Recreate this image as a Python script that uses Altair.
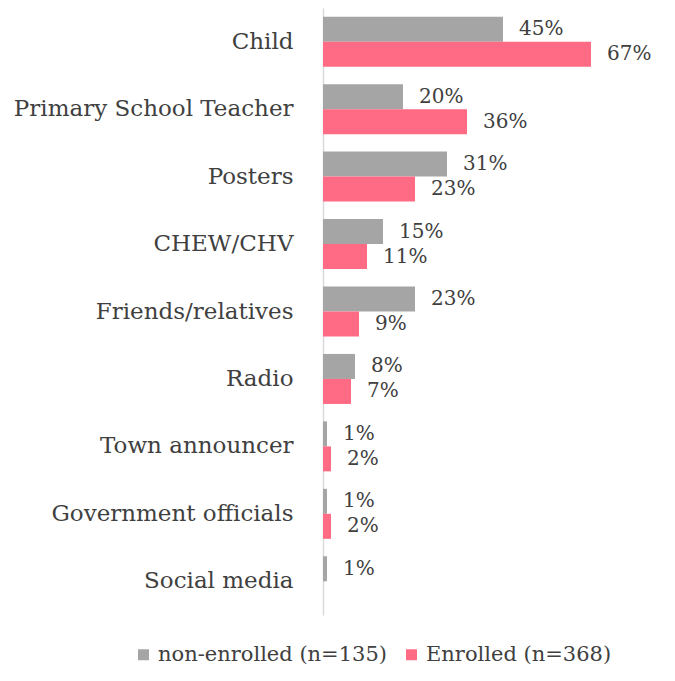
import altair as alt
import pandas as pd

categories = ["Child", "Primary School Teacher", "Posters", "CHEW/CHV",
              "Friends/relatives", "Radio", "Town announcer",
              "Government officials", "Social media"]
non_enrolled = [45, 20, 31, 15, 23, 8, 1, 1, 1]
enrolled = [67, 36, 23, 11, 9, 7, 2, 2, None]
series = ["non-enrolled (n=135)", "Enrolled (n=368)"]

rows = []
for c, a, b in zip(categories, non_enrolled, enrolled):
    rows.append({"cat": c, "series": series[0], "value": a})
    if b is not None:
        rows.append({"cat": c, "series": series[1], "value": b})
df = pd.DataFrame(rows)
df["label"] = df["value"].astype(int).astype(str) + "%"

FONT = "DejaVu Serif"
TXT = "#404040"

y = alt.Y("cat:N", sort=categories, title=None,
          scale=alt.Scale(paddingInner=0, paddingOuter=0),
          axis=alt.Axis(ticks=False, domainColor="#d9d9d9", domainWidth=1.5,
                        labelFont=FONT, labelFontSize=23, labelColor=TXT,
                        labelPadding=30, labelLimit=400))
yoff = alt.YOffset("series:N", sort=series,
                   scale=alt.Scale(paddingInner=0, paddingOuter=0.35))
x = alt.X("value:Q", scale=alt.Scale(domain=[0, 84], nice=False), axis=None)
color = alt.Color("series:N", sort=series,
                  scale=alt.Scale(domain=series, range=["#a5a5a5", "#ff6b84"]),
                  legend=alt.Legend(title=None, orient="none", direction="horizontal",
                                    legendX=-190, legendY=636,
                                    symbolType="square", symbolSize=120,
                                    labelFont=FONT, labelFontSize=21, labelColor=TXT,
                                    labelLimit=400, columnPadding=14,
                                    symbolStrokeWidth=0))

bars = alt.Chart(df).mark_bar(size=25).encode(y=y, yOffset=yoff, x=x, color=color)
labels = alt.Chart(df).mark_text(align="left", baseline="middle", dx=16,
                                 font=FONT, fontSize=20, color=TXT).encode(
    y=y, yOffset=yoff, x=x, text="label:N")

chart = (bars + labels).properties(
    width=336, height=607,
    padding={"left": 5, "top": 0, "right": 0, "bottom": 0}
).configure_view(stroke=None)

chart.save("out.html", embed_options={"renderer": "svg", "actions": False})
